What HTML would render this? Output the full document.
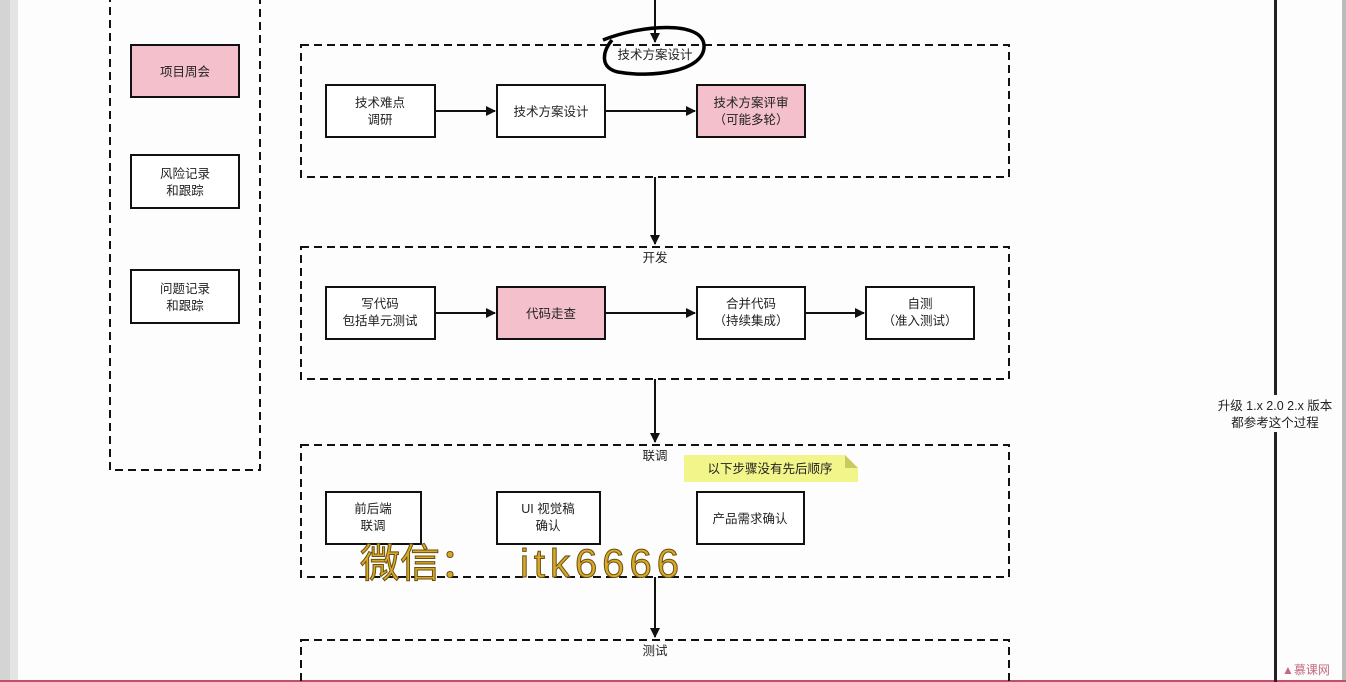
<!DOCTYPE html>
<html><head><meta charset="utf-8"><style>
html,body{margin:0;padding:0;background:#fff;}
svg{display:block;}
text{font-family:"Liberation Sans","Noto Sans CJK SC",sans-serif;font-size:12.5px;fill:#222;}
</style></head><body>
<svg width="1346" height="682" viewBox="0 0 1346 682" xmlns="http://www.w3.org/2000/svg">
<defs><marker id="a" markerWidth="10" markerHeight="10" refX="9" refY="5" orient="auto" markerUnits="userSpaceOnUse"><path d="M0,0 L10,5 L0,10 z" fill="#111"/></marker></defs>
<rect x="0" y="0" width="1346" height="682" fill="#fdfdfd"/>
<rect x="0" y="0" width="10" height="682" fill="#d4d4d4"/>
<rect x="10" y="0" width="8" height="682" fill="#e4e4e4"/>
<rect x="1342" y="0" width="4" height="682" fill="#bbb"/>
<rect x="0" y="680" width="1346" height="2" fill="#c0506a"/>
<g fill="none" stroke="#111" stroke-width="2" stroke-dasharray="8,5">
<rect x="110" y="-10" width="150" height="480"/>
<rect x="301" y="45" width="708" height="132"/>
<rect x="301" y="247" width="708" height="132"/>
<rect x="301" y="445" width="708" height="132"/>
<rect x="301" y="640" width="708" height="60"/>
</g>
<g stroke="#111" stroke-width="2">
<rect x="131" y="45" width="108" height="52" fill="#f4c0cc"/>
<rect x="131" y="155" width="108" height="53" fill="#fff"/>
<rect x="131" y="270" width="108" height="53" fill="#fff"/>
<rect x="326" y="85" width="109" height="52" fill="#fff"/>
<rect x="497" y="85" width="108" height="52" fill="#fff"/>
<rect x="697" y="85" width="108" height="52" fill="#f4c0cc"/>
<rect x="326" y="287" width="109" height="52" fill="#fff"/>
<rect x="497" y="287" width="108" height="52" fill="#f4c0cc"/>
<rect x="697" y="287" width="108" height="52" fill="#fff"/>
<rect x="866" y="287" width="108" height="52" fill="#fff"/>
<rect x="326" y="492" width="95" height="52" fill="#fff"/>
<rect x="497" y="492" width="103" height="52" fill="#fff"/>
<rect x="697" y="492" width="107" height="52" fill="#fff"/>
</g>
<g stroke="#111" stroke-width="2" marker-end="url(#a)">
<line x1="655" y1="0" x2="655" y2="42"/>
<line x1="655" y1="177" x2="655" y2="244"/>
<line x1="655" y1="379" x2="655" y2="442"/>
<line x1="655" y1="577" x2="655" y2="637"/>
<line x1="435" y1="111" x2="495" y2="111"/>
<line x1="605" y1="111" x2="695" y2="111"/>
<line x1="435" y1="313" x2="495" y2="313"/>
<line x1="605" y1="313" x2="695" y2="313"/>
<line x1="805" y1="313" x2="864" y2="313"/>
</g>
<path d="M603,40 C640,25 702,20 704,45 C706,72 650,78 618,72 C600,68 602,52 612,40" fill="none" stroke="#000" stroke-width="3.5"/>
<rect x="1274" y="0" width="3" height="395" fill="#222"/>
<rect x="1274" y="432" width="3" height="250" fill="#222"/>
<path d="M684,455 H845 L858,468 V482 H684 z" fill="#f2f58a"/>
<path d="M845,455 L858,468 H845 z" fill="#c8cc60"/>
<g text-anchor="middle">
<text x="185" y="76">项目周会</text>
<text x="185" y="178">风险记录</text><text x="185" y="195">和跟踪</text>
<text x="185" y="293">问题记录</text><text x="185" y="310">和跟踪</text>
<text x="655" y="59">技术方案设计</text>
<text x="380" y="107">技术难点</text><text x="380" y="124">调研</text>
<text x="551" y="116">技术方案设计</text>
<text x="751" y="107">技术方案评审</text><text x="751" y="124">（可能多轮）</text>
<text x="655" y="262">开发</text>
<text x="380" y="308">写代码</text><text x="380" y="325">包括单元测试</text>
<text x="551" y="318">代码走查</text>
<text x="751" y="308">合并代码</text><text x="751" y="325">（持续集成）</text>
<text x="920" y="308">自测</text><text x="920" y="325">（准入测试）</text>
<text x="655" y="460">联调</text>
<text x="770" y="473">以下步骤没有先后顺序</text>
<text x="373" y="513">前后端</text><text x="373" y="530">联调</text>
<text x="548" y="513">UI 视觉稿</text><text x="548" y="530">确认</text>
<text x="750" y="523">产品需求确认</text>
<text x="655" y="655">测试</text>
<text x="1275" y="410">升级 1.x 2.0 2.x 版本</text><text x="1275" y="427">都参考这个过程</text>
</g>
<text x="1282" y="674" style="font-size:12px;fill:#c46a80">▲慕课网</text>
<text x="360" y="577" style="font-size:40px;fill:#d8a928;stroke:#6a5010;stroke-width:1">微信：</text>
<text x="520" y="577" style="font-size:40px;fill:#d8a928;stroke:#6a5010;stroke-width:1;letter-spacing:5px">itk6666</text>
</svg>
</body></html>
